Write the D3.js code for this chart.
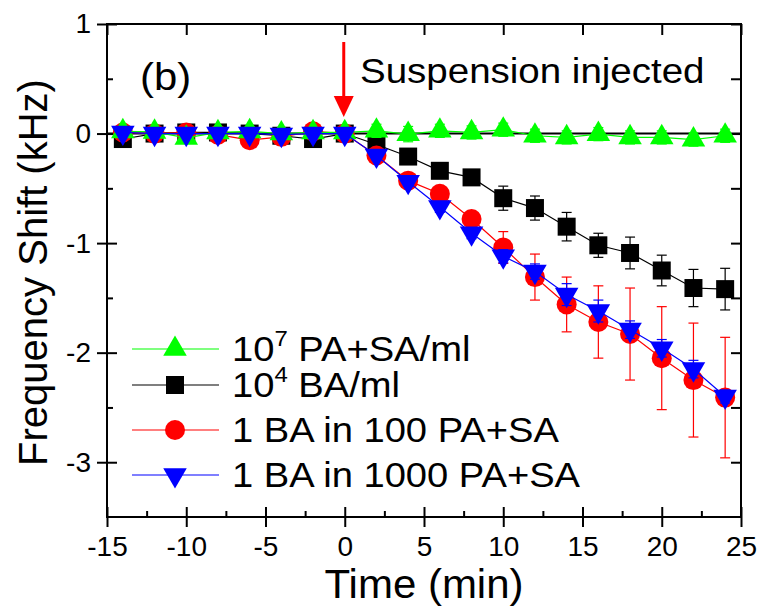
<!DOCTYPE html>
<html>
<head>
<meta charset="utf-8">
<script src="https://cdn.jsdelivr.net/npm/d3@7/dist/d3.min.js"></script>
<style>
  html, body { margin: 0; padding: 0; background: #fff; }
  svg { display: block; font-family: Arial, "Liberation Sans", sans-serif; }
</style>
</head>
<body>
<svg id="chart" width="759" height="608"></svg>
<script>
// Time points (min) and frequency shift (kHz) per sample
const times = [-14, -12, -10, -8, -6, -4, -2, 0, 2, 4, 6, 8, 10, 12, 14, 16, 18, 20, 22, 24];

const paSa      = [0.02, 0.015, -0.04, 0.01, 0.02, 0.0, 0.01, 0.01, 0.025, -0.005, 0.025, 0.01, 0.035, -0.02, -0.035, -0.005, -0.035, -0.035, -0.055, -0.02];
const paSaErr   = [0.04, 0.04, 0.04, 0.04, 0.04, 0.04, 0.04, 0.04, 0.06, 0.07, 0.06, 0.06, 0.06, 0.06, 0.06, 0.06, 0.06, 0.06, 0.06, 0.06];

const ba        = [-0.05, 0.0, 0.01, 0.01, 0.0, -0.02, -0.05, 0.0, -0.1, -0.21, -0.34, -0.40, -0.59, -0.68, -0.85, -1.02, -1.09, -1.25, -1.41, -1.42];
const baErr     = [0.03, 0.03, 0.03, 0.03, 0.03, 0.03, 0.03, 0.03, 0.04, 0.04, 0.04, 0.05, 0.11, 0.11, 0.13, 0.11, 0.145, 0.14, 0.17, 0.19];

const ba100     = [0.01, 0.0, 0.01, -0.01, -0.06, -0.03, 0.02, 0.0, -0.20, -0.43, -0.55, -0.78, -1.04, -1.31, -1.56, -1.72, -1.83, -2.05, -2.25, -2.41];
const ba100Err  = [0.03, 0.03, 0.03, 0.03, 0.03, 0.03, 0.03, 0.03, 0.04, 0.04, 0.05, 0.07, 0.145, 0.21, 0.25, 0.33, 0.42, 0.47, 0.52, 0.55];

const ba1000    = [0.01, 0.0, 0.0, 0.0, 0.0, -0.01, 0.0, 0.0, -0.20, -0.44, -0.67, -0.91, -1.12, -1.26, -1.47, -1.62, -1.79, -1.96, -2.15, -2.40];
const ba1000Err = [0.03, 0.03, 0.03, 0.03, 0.03, 0.03, 0.03, 0.03, 0.04, 0.04, 0.05, 0.05, 0.06, 0.07, 0.1, 0.1, 0.08, 0.08, 0.08, 0.06];

const xTicks = [-15, -10, -5, 0, 5, 10, 15, 20, 25];
const yTicks = [1, 0, -1, -2, -3];

// Series in drawing order (bottom to top)
const series = [
  { key: "ba",     values: ba,     err: baErr,     color: "#000000", symbol: "square" },
  { key: "ba100",  values: ba100,  err: ba100Err,  color: "#ff0000", symbol: "circle" },
  { key: "paSa",   values: paSa,   err: paSaErr,   color: "#00ff00", symbol: "up" },
  { key: "ba1000", values: ba1000, err: ba1000Err, color: "#0000ff", symbol: "down" }
];

// Legend entries in listed order
const legendItems = [
  { main: "10", sup: "7", rest: " PA+SA/ml", color: "#00ff00", symbol: "up" },
  { main: "10", sup: "4", rest: " BA/ml", color: "#000000", symbol: "square" },
  { main: "1 BA in 100 PA+SA", sup: "", rest: "", color: "#ff0000", symbol: "circle" },
  { main: "1 BA in 1000 PA+SA", sup: "", rest: "", color: "#0000ff", symbol: "down" }
];

const svg = d3.select("#chart");
const L = 107, R = 741, T = 24, B = 517;

const x = d3.scaleLinear().domain([-15, 25]).range([L, R]);
const y = d3.scaleLinear().domain([-3.5, 1]).range([B, T]);
const fmt = d => String(d);

function symbolPath(kind) {
  if (kind === "square") return d3.symbol(d3.symbolSquare, 324)();
  if (kind === "circle") return d3.symbol(d3.symbolCircle, Math.PI * 100)();
  return d3.symbol(d3.symbolTriangle, 240)();
}
function symbolTransform(kind, px, py) {
  return kind === "down" ? `translate(${px},${py}) rotate(180)` : `translate(${px},${py})`;
}
// text placed at (px,py) with a slight horizontal stretch
function wideText(px, py, size, sx) {
  return svg.append("text").attr("transform", `translate(${px},${py}) scale(${sx},1)`)
    .attr("font-size", size);
}

// Axes
const axisStyle = g => {
  g.select(".domain").remove();
  g.selectAll(".tick line").attr("stroke", "#000").attr("stroke-width", 2);
  g.selectAll("text").attr("fill", "#000");
};

const minorX = d3.range(-12.5, 25, 5);
const minorY = [0.5, -0.5, -1.5, -2.5];

// bottom: major ticks crossing the axis, minor ticks inside
svg.append("g").attr("transform", `translate(0,${B})`)
  .call(d3.axisBottom(x).tickValues(xTicks).tickFormat(fmt).tickSize(10).tickPadding(8))
  .call(axisStyle)
  .call(g => g.selectAll(".tick line").attr("y1", -10).attr("y2", 10))
  .call(g => g.selectAll("text").attr("font-size", 28).attr("dy", "0.75em"));
svg.append("g").attr("transform", `translate(0,${B})`)
  .call(d3.axisBottom(x).tickValues(minorX).tickFormat("").tickSize(-6))
  .call(axisStyle);

// top: inward major ticks
svg.append("g").attr("transform", `translate(0,${T})`)
  .call(d3.axisTop(x).tickValues(xTicks).tickFormat("").tickSize(-11))
  .call(axisStyle);

// left
svg.append("g").attr("transform", `translate(${L},0)`)
  .call(d3.axisLeft(y).tickValues(yTicks).tickFormat(fmt).tickSize(10).tickPadding(6))
  .call(axisStyle)
  .call(g => g.selectAll(".tick line").attr("x1", -10).attr("x2", 10))
  .call(g => g.selectAll("text").attr("font-size", 28));
svg.append("g").attr("transform", `translate(${L},0)`)
  .call(d3.axisLeft(y).tickValues(minorY).tickFormat("").tickSize(-6))
  .call(axisStyle);

// right: inward ticks
svg.append("g").attr("transform", `translate(${R},0)`)
  .call(d3.axisRight(y).tickValues(yTicks.concat(minorY)).tickFormat("").tickSize(-10))
  .call(axisStyle);

// frame
svg.append("rect").attr("x", L).attr("y", T).attr("width", R - L).attr("height", B - T)
  .attr("fill", "none").attr("stroke", "#000").attr("stroke-width", 2);

// zero reference line
svg.append("line").attr("x1", L).attr("x2", R).attr("y1", y(0)).attr("y2", y(0))
  .attr("stroke", "#000").attr("stroke-width", 2);

// data series
const line = d3.line().x(d => x(d.t)).y(d => y(d.v));
series.forEach(s => {
  const pts = times.map((t, i) => ({ t, v: s.values[i], e: s.err[i] }));
  const g = svg.append("g");
  g.append("path").datum(pts).attr("d", line).attr("fill", "none")
    .attr("stroke", s.color).attr("stroke-width", 1.2);
  const eb = g.append("g").attr("stroke", s.color).attr("stroke-width", 1.2);
  pts.forEach(p => {
    eb.append("line").attr("x1", x(p.t)).attr("x2", x(p.t)).attr("y1", y(p.v - p.e)).attr("y2", y(p.v + p.e));
    eb.append("line").attr("x1", x(p.t) - 5).attr("x2", x(p.t) + 5).attr("y1", y(p.v - p.e)).attr("y2", y(p.v - p.e));
    eb.append("line").attr("x1", x(p.t) - 5).attr("x2", x(p.t) + 5).attr("y1", y(p.v + p.e)).attr("y2", y(p.v + p.e));
  });
  g.selectAll(".m").data(pts).join("path")
    .attr("d", symbolPath(s.symbol))
    .attr("transform", d => symbolTransform(s.symbol, x(d.t), y(d.v)))
    .attr("fill", s.color);
});

// axis titles
wideText(424, 598, 40, 1.05).attr("text-anchor", "middle").text("Time (min)");
svg.append("text").attr("transform", `translate(47,${(T + B) / 2 + 2}) rotate(-90)`)
  .attr("text-anchor", "middle").attr("font-size", 40).text("Frequency Shift (kHz)");

// panel label and injection marker
wideText(140, 90, 38, 1.1).text("(b)");
wideText(360, 83, 35, 1.1).text("Suspension injected");
const ax = x(0) - 1;
svg.append("line").attr("x1", ax).attr("x2", ax).attr("y1", 42).attr("y2", 98)
  .attr("stroke", "#ff0000").attr("stroke-width", 3);
svg.append("path").attr("d", `M${ax - 10},96 L${ax + 10},96 L${ax},117 Z`).attr("fill", "#ff0000");

// legend
const legendY = [349, 385, 430, 475];
legendItems.forEach((it, i) => {
  const ly = legendY[i];
  svg.append("line").attr("x1", 132).attr("x2", 219).attr("y1", ly).attr("y2", ly)
    .attr("stroke", it.color).attr("stroke-width", 1.2);
  svg.append("path").attr("d", symbolPath(it.symbol))
    .attr("transform", symbolTransform(it.symbol, 175, ly)).attr("fill", it.color);
  const t = wideText(232, ly + 12, 35, 1.09);
  t.append("tspan").text(it.main);
  if (it.sup) {
    t.append("tspan").attr("font-size", 22).attr("dy", -15).text(it.sup);
    t.append("tspan").attr("dy", 15).text(it.rest);
  }
});
</script>
</body>
</html>
